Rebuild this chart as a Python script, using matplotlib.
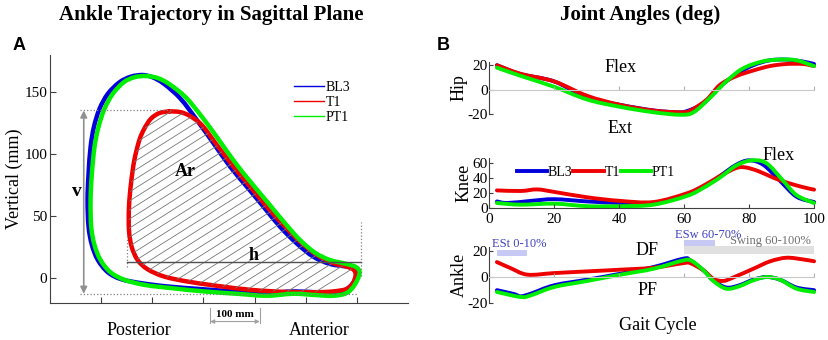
import numpy as np
import matplotlib.pyplot as plt
from matplotlib.path import Path
from matplotlib.patches import PathPatch, Rectangle

plt.rcParams['font.family'] = ['Liberation Serif', 'DejaVu Serif']
plt.rcParams['axes.unicode_minus'] = False

# ---- panel A: ankle trajectory (mm) ----
bl3_x = [181.0, 158.3, 135.6, 113.0, 96.8, 85.8, 79.3, 75.4, 73.4, 75.4, 81.9, 93.5, 113.0,
         138.9, 177.7, 229.5, 294.3, 359.1, 423.8, 475.6, 520.9, 553.4, 576.0, 592.2, 601.9,
         595.5, 579.3, 546.9, 514.5, 482.1, 449.7, 417.4, 385.0, 352.6, 320.2, 287.8, 255.4,
         223.1, 200.4]
bl3_y = [163.9, 162.6, 158.0, 148.7, 136.6, 121.9, 105.8, 84.4, 63.0, 41.5, 26.8, 14.7, 4.8,
         -0.8, -4.0, -6.7, -8.8, -10.7, -12.1, -10.7, -11.5, -12.1, -9.9, -4.0, 4.0,
         8.0, 9.4, 11.5, 17.4, 28.1, 41.5, 57.6, 73.7, 89.7, 108.5, 127.2, 144.7,
         156.7, 162.1]
t1_x = [232.8, 213.3, 197.2, 184.2, 174.5, 164.8, 158.3, 154.4, 154.4, 159.6, 171.2, 190.7,
        223.1, 268.4, 326.7, 391.5, 456.2, 521.0, 553.4, 579.3, 592.2, 597.4, 593.5, 579.3,
        553.4, 521.0, 488.6, 456.2, 423.8, 391.5, 359.1, 326.7, 297.5, 274.9, 255.4]
t1_y = [134.5, 133.1, 128.6, 120.5, 111.2, 95.1, 76.3, 57.6, 38.8, 25.4, 14.7, 7.2,
        1.3, -2.7, -6.2, -9.4, -11.0, -11.3, -10.7, -8.8, -4.0, 2.7, 6.7, 9.4,
        12.1, 18.8, 29.5, 42.9, 57.6, 73.7, 89.7, 107.2, 123.2, 130.5, 133.9]
pt1_x = [187.4, 164.8, 144.0, 122.7, 106.5, 94.8, 87.0, 81.9, 79.3, 80.6, 87.0, 98.7, 118.1,
         145.3, 184.2, 236.0, 300.8, 365.5, 423.8, 475.6, 520.9, 553.4, 579.3, 595.5, 605.2,
         598.7, 579.3, 546.9, 517.7, 488.6, 459.5, 427.1, 394.7, 362.3, 329.9, 297.5, 265.2,
         232.8, 210.1]
pt1_y = [163.1, 162.1, 158.0, 148.7, 136.6, 121.9, 105.8, 84.4, 63.0, 41.5, 26.8, 14.7, 4.8,
         -1.3, -5.4, -8.0, -10.7, -12.6, -14.2, -12.6, -13.7, -14.2, -12.1, -5.4, 4.0,
         8.8, 11.5, 14.7, 20.6, 30.8, 44.2, 60.3, 76.3, 93.0, 111.7, 129.9, 146.0,
         156.7, 161.5]

# ---- panel B: joint angles vs gait cycle (%) ----
hip_bl3_x = [2.4, 9.7, 20, 30.2, 40.4, 50.6, 57.8, 60.8, 66, 71, 76, 81.3, 86.4, 91.5, 96.6, 100]
hip_bl3_y = [20, 12.7, 6.8, -6.5, -12.4, -16.9, -18.4, -17.5, -11, 2.4, 12.7, 20, 24, 24.6, 23, 21]
hip_t1_x = [2.4, 9.7, 20, 30.2, 40.4, 50.6, 58.8, 61.9, 67, 71, 76, 81.3, 86.4, 91.5, 96.6, 100]
hip_t1_y = [20, 13.0, 6.8, -5, -12.4, -17, -18.4, -17, -8, 3.9, 11, 15.7, 19.3, 21, 21, 19.3]
hip_pt1_x = [2.4, 9.7, 20, 30.2, 40.4, 50.6, 58.8, 62.9, 68, 73, 78, 84, 89.5, 94.6, 100]
hip_pt1_y = [18, 11.3, 2.4, -8, -14, -18.4, -20.4, -18.4, -6.5, 6.8, 17.2, 23, 24.6, 24, 19.3]

knee_bl3_x = [2.4, 5.6, 12.8, 20, 30.2, 40.4, 50.6, 60.8, 66, 71, 76, 80, 84.4, 89.5, 94.6, 100]
knee_bl3_y = [9.3, 7.2, 10, 12.3, 9.3, 7.2, 6.3, 17.7, 28.3, 43, 58, 64, 58, 36.8, 15.6, 8.5]
knee_t1_x = [2.4, 9.7, 14.8, 20, 30.2, 40.4, 50.6, 60.8, 66, 71, 76, 79, 83, 87.4, 91.5, 96.6, 100]
knee_t1_y = [24, 23.2, 25.3, 22, 14.8, 10, 8.5, 20, 30.4, 43, 53.7, 54.5, 49.4, 41, 34.6, 28.3, 25]
knee_pt1_x = [2.4, 9.7, 20, 30.2, 40.4, 50.6, 60.8, 66, 71, 76, 80.8, 85.4, 90.5, 94.6, 100]
knee_pt1_y = [7.2, 5, 6.3, 3, 3, 5, 16.5, 27.5, 41, 57, 64, 60, 36.8, 17.7, 7.2]

ank_bl3_x = [2.4, 7.7, 9.7, 12.8, 20, 30.2, 40.4, 50.6, 59.8, 61.9, 66, 69, 73, 77, 81.3, 85.4,
             89.5, 94.6, 100]
ank_bl3_y = [-10, -13, -14.7, -12.7, -6.3, -2, 2.5, 7.6, 14, 12.7, 5, -2.5, -8, -6.3, -2, 0,
             -2, -8, -10]
ank_t1_x = [2.4, 6.6, 11.8, 20, 30.2, 40.4, 50.6, 59.8, 61.9, 66, 69, 72, 75, 81.3, 86.4, 91.5,
            96.6, 100]
ank_t1_y = [11.4, 6.8, 1.8, 3, 4.3, 5.6, 7.1, 10.6, 10.6, 5, -1.3, -3, -0.5, 6.3, 11.9, 14.7,
            13.4, 12]
ank_pt1_x = [2.4, 9.7, 12.8, 20, 30.2, 40.4, 50.6, 59.8, 62.4, 66, 69, 73, 77, 81.3, 85.4, 89.5,
             94.6, 100]
ank_pt1_y = [-11.4, -15.2, -14, -7.6, -3, 1.8, 6.3, 12.7, 12.2, 5, -3, -8.9, -7, -2.5, 0, -2,
             -8.9, -11.4]

blue, red, green = '#0000dd', '#ee0000', '#00ee00'
spine_c = '#404040'


def smooth_path(xs, ys, closed=False):
    # Catmull-Rom style bezier path through the given points
    p = np.column_stack([xs, ys]).astype(float)
    n = len(p)
    if closed:
        get = lambda i: p[i % n]
        segs = n
    else:
        get = lambda i: p[min(max(i, 0), n - 1)]
        segs = n - 1
    verts = [p[0]]
    codes = [Path.MOVETO]
    for i in range(segs):
        p0, p1, p2, p3 = get(i - 1), get(i), get(i + 1), get(i + 2)
        verts += [p1 + (p2 - p0) / 6, p2 - (p3 - p1) / 6, p2]
        codes += [Path.CURVE4] * 3
    return Path(verts, codes)


def draw_curve(ax, xs, ys, color, lw, closed=False):
    patch = PathPatch(smooth_path(xs, ys, closed), facecolor='none', edgecolor=color,
                      lw=lw, clip_on=False, capstyle='round', joinstyle='round')
    ax.add_patch(patch)
    return patch


fig = plt.figure(figsize=(8.29, 3.40), dpi=100)

# ================= panel A =================
axA = fig.add_axes([0.0603, 0.109, 0.432, 0.729])
axA.set_xlim(0, 700)
axA.set_ylim(-20, 180)
for s in ['top', 'right']:
    axA.spines[s].set_visible(False)
for s in ['left', 'bottom']:
    axA.spines[s].set_color(spine_c)
axA.set_xticks([100, 200, 300, 400, 500, 600])
axA.set_xticklabels([])
axA.set_yticks([0, 50, 100, 150])
axA.tick_params(direction='in', length=4, color=spine_c, labelsize=11, pad=2)
axA.set_ylabel('Vertical (mm)', fontsize=13, labelpad=1)

# hatched area (Ar) inside the T1 loop
area = PathPatch(smooth_path(t1_x, t1_y, closed=True), facecolor='none', edgecolor='none')
axA.add_patch(area)
for c in np.arange(-120, 180, 7.3):
    hl, = axA.plot([100, 650], [c, c + 0.26 * 550], color='#777777', lw=0.6)
    hl.set_clip_path(area)

draw_curve(axA, bl3_x, bl3_y, blue, 3.2, closed=True)
draw_curve(axA, t1_x, t1_y, red, 3.2, closed=True)
draw_curve(axA, pt1_x, pt1_y, green, 3.2, closed=True)
for name, col in [('BL3', blue), ('T1', red), ('PT1', green)]:
    axA.plot([], [], color=col, lw=1, label=name)

# guide lines
axA.plot([58, 240], [135.3, 135.3], ls=':', color='#808080', lw=0.9)
axA.plot([58, 602], [-12.6, -12.6], ls=':', color='#808080', lw=0.9)
axA.plot([150, 150], [9, 36], ls=':', color='#808080', lw=0.9)
axA.plot([608, 608], [2, 45], ls=':', color='#808080', lw=0.9)
axA.plot([150, 608], [12.9, 12.9], color='#505050', lw=1)
axA.annotate('', xy=(66, -12.6), xytext=(66, 135.3),
             arrowprops=dict(arrowstyle='<|-|>', color='#909090', lw=1.2,
                             mutation_scale=10, shrinkA=0, shrinkB=0))
axA.text(53, 70, 'v', fontsize=14, fontweight='bold', ha='center', va='center')
axA.text(265, 86, 'Ar', fontsize=13, fontweight='bold', ha='center', va='center')
axA.text(398, 18.5, 'h', fontsize=13, fontweight='bold', ha='center', va='center')

# 100 mm scale
for xv in [313, 410]:
    axA.plot([xv, xv], [-24, -36], color='#a0a0a0', lw=0.8, clip_on=False)
axA.annotate('', xy=(313, -35), xytext=(410, -35),
             arrowprops=dict(arrowstyle='<|-|>', color='#a0a0a0', lw=0.8,
                             mutation_scale=6, shrinkA=0, shrinkB=0),
             annotation_clip=False)
axA.text(361, -29, '100 mm', fontsize=8, fontweight='bold', ha='center', va='center')
axA.text(174, -42, 'Posterior', fontsize=13, ha='center', va='center')
axA.text(527, -42, 'Anterior', fontsize=13, ha='center', va='center')

axA.legend(loc='center left', bbox_to_anchor=(0.68, 0.81), frameon=False,
           fontsize=10, handlelength=2.2, handletextpad=0.1, labelspacing=0.15,
           borderpad=0, borderaxespad=0)

fig.text(0.255, 0.955, 'Ankle Trajectory in Sagittal Plane', fontsize=15,
         fontweight='bold', ha='center', va='center')
fig.text(0.015, 0.865, 'A', fontsize=13, fontweight='bold', family='Liberation Sans',
         ha='left', va='center')

# ================= panel B =================
def style_b(ax, ylim, yticks, zero_line):
    ax.set_xlim(0, 100)
    ax.set_ylim(*ylim)
    ax.spines['top'].set_visible(False)
    ax.spines['right'].set_visible(False)
    ax.spines['left'].set_color(spine_c)
    ax.set_yticks(yticks)
    ax.set_xticks([0, 20, 40, 60, 80, 100])
    ax.tick_params(axis='y', direction='in', length=3, color=spine_c, labelsize=11, pad=1)
    if zero_line:
        ax.spines['bottom'].set_position(('data', 0))
        ax.spines['bottom'].set_color('#c8c8c8')
        ax.tick_params(axis='x', direction='in', length=3, color='#b0b0b0',
                       labelbottom=False)
    else:
        ax.spines['bottom'].set_color(spine_c)
        ax.tick_params(axis='x', direction='in', length=3, color=spine_c, labelsize=11, pad=3)


axH = fig.add_axes([0.590, 0.664, 0.392, 0.155])
style_b(axH, (-20, 23), [-20, 0, 20], True)
draw_curve(axH, hip_bl3_x, hip_bl3_y, blue, 2.8)
draw_curve(axH, hip_t1_x, hip_t1_y, red, 2.8)
draw_curve(axH, hip_pt1_x, hip_pt1_y, green, 2.8)
axH.set_ylabel('Hip', fontsize=13, labelpad=0)
axH.text(40.4, 18.5, 'Flex', fontsize=13, ha='center', va='center')
axH.text(40.4, -32, 'Ext', fontsize=13, ha='center', va='center', clip_on=False)

axK = fig.add_axes([0.590, 0.387, 0.392, 0.148])
style_b(axK, (0, 67), [0, 20, 40, 60], False)
draw_curve(axK, knee_bl3_x, knee_bl3_y, blue, 2.8)
draw_curve(axK, knee_t1_x, knee_t1_y, red, 2.8)
draw_curve(axK, knee_pt1_x, knee_pt1_y, green, 2.8)
for name, col in [('BL3', blue), ('T1', red), ('PT1', green)]:
    axK.plot([], [], color=col, lw=2.8, label=name)
axK.set_ylabel('Knee', fontsize=13, labelpad=0)
axK.text(89, 71, 'Flex', fontsize=13, ha='center', va='center', clip_on=False)
axK.legend(loc='center left', bbox_to_anchor=(0.085, 0.71), ncol=3, frameon=False,
           fontsize=10, handlelength=2.2, handletextpad=0.05, columnspacing=0.05,
           borderpad=0, borderaxespad=0)

axN = fig.add_axes([0.590, 0.108, 0.392, 0.166])
style_b(axN, (-20, 23), [-20, 0, 20], True)
draw_curve(axN, ank_bl3_x, ank_bl3_y, blue, 2.8)
draw_curve(axN, ank_t1_x, ank_t1_y, red, 2.8)
draw_curve(axN, ank_pt1_x, ank_pt1_y, green, 2.8)
axN.set_ylabel('Ankle', fontsize=13, labelpad=0)
axN.text(48.6, 20, 'DF', fontsize=13, ha='center', va='center')
axN.text(48.6, -10, 'PF', fontsize=13, ha='center', va='center')
axN.add_patch(Rectangle((2.4, 15.7), 9.4, 5.1, facecolor='#c8c8f4', edgecolor='none',
                        clip_on=False))
axN.add_patch(Rectangle((60, 23.3), 9.5, 5.1, facecolor='#c8c8f4', edgecolor='none',
                        clip_on=False))
axN.add_patch(Rectangle((60, 17.7), 40, 5.6, facecolor='#e0e0e0', edgecolor='none',
                        clip_on=False))
axN.text(1, 25.5, 'ESt 0-10%', fontsize=9, color='#4040c0', ha='left', va='center')
axN.text(57.3, 32.4, 'ESw 60-70%', fontsize=9, color='#4040c0', ha='left', va='center')
axN.text(99, 27.8, 'Swing 60-100%', fontsize=9, color='#707070', ha='right', va='center')

fig.text(0.794, 0.044, 'Gait Cycle', fontsize=13, ha='center', va='center')
fig.text(0.772, 0.955, 'Joint Angles (deg)', fontsize=15, fontweight='bold',
         ha='center', va='center')
fig.text(0.527, 0.865, 'B', fontsize=13, fontweight='bold', family='Liberation Sans',
         ha='left', va='center')

fig.savefig('out.png', dpi=100)
